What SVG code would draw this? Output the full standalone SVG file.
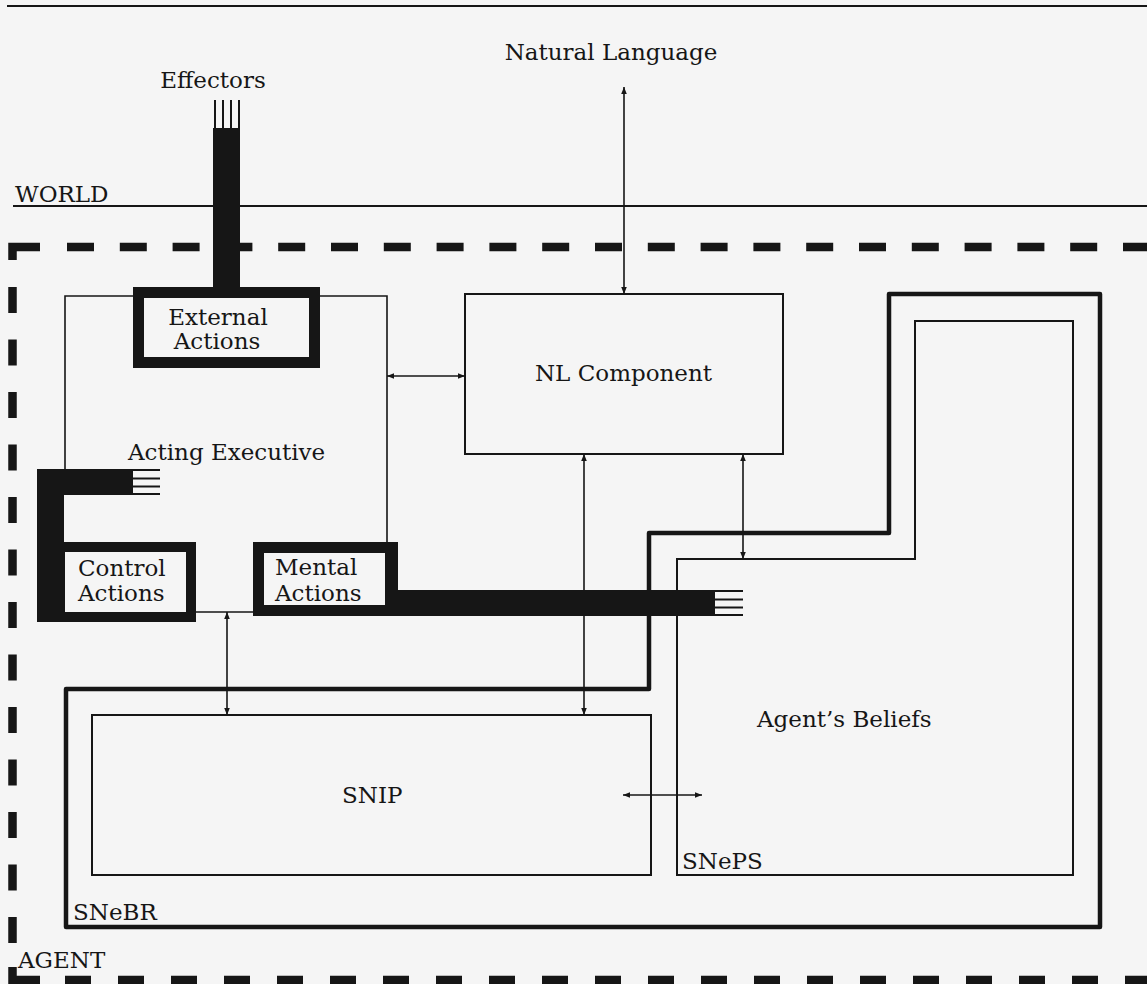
<svg xmlns="http://www.w3.org/2000/svg" width="1147" height="984" viewBox="0 0 1147 984">
<defs>
<style>
.bg{fill:#f5f5f5}
.ink{fill:#161616}
.paper{fill:#f5f5f5}
.thin{fill:none;stroke:#161616;stroke-width:2}
.hair{fill:none;stroke:#161616;stroke-width:1.6}
.thick{fill:none;stroke:#161616;stroke-width:4.5;stroke-linejoin:round}
.dash{fill:none;stroke:#161616;stroke-width:8.5}
.wire{stroke:#161616;stroke-width:2}
.arrow{fill:none;stroke:#161616;stroke-width:1.6;marker-start:url(#ah);marker-end:url(#ah)}
text{font-family:"DejaVu Serif","Liberation Serif",serif;font-size:23px;fill:#161616}
</style>
<marker id="ah" viewBox="0 0 10 10" refX="10" refY="5" markerWidth="9" markerHeight="7" markerUnits="userSpaceOnUse" orient="auto-start-reverse">
<path d="M0,1 L10,5 L0,9 z" fill="#161616"/>
</marker>
</defs>
<rect class="bg" x="0" y="0" width="1147" height="984"/>

<g id="world">
<line class="thin" x1="7" y1="6" x2="1147" y2="6"/>
<line class="thin" x1="13" y1="206" x2="1147" y2="206"/>
<text x="15" y="202">WORLD</text>
<text x="611" y="60" text-anchor="middle">Natural Language</text>
</g>

<g id="agent-boundary">
<path class="dash" d="M12.5,260 V247 H40" stroke-linejoin="miter"/>
<line class="dash" x1="67" y1="247" x2="1147" y2="247" stroke-dasharray="27 25.8"/>
<line class="dash" x1="12.5" y1="287" x2="12.5" y2="945" stroke-dasharray="26 26.5"/>
<path class="dash" d="M12.5,967 V980 H40" stroke-linejoin="miter"/>
<line class="dash" x1="65" y1="980" x2="1147" y2="980" stroke-dasharray="26 27"/>
<text x="18" y="968">AGENT</text>
</g>

<g id="acting-executive">
<path class="hair" d="M133,296 H65 V470 M320,296 H387 V542 M196,612 H253"/>
<text x="128" y="460">Acting Executive</text>
</g>

<g id="nl-component">
<rect class="thin" x="465" y="294" width="318" height="160"/>
<text x="623.5" y="381" text-anchor="middle">NL Component</text>
</g>

<g id="snip">
<rect class="thin" x="92" y="715" width="559" height="160"/>
<text x="342" y="803">SNIP</text>
</g>

<g id="sneps">
<path class="thin" d="M677,559 H915 V321 H1073 V875 H677 Z"/>
<text x="682" y="869">SNePS</text>
<text x="757" y="727">Agent’s Beliefs</text>
</g>

<g id="snebr">
<path class="thick" d="M66,689 H649 V533 H889 V294 H1100 V927 H66 Z"/>
<text x="73" y="920">SNeBR</text>
</g>

<g id="connectors">
<line class="arrow" x1="624" y1="87" x2="624" y2="294"/>
<line class="arrow" x1="387" y1="376" x2="465" y2="376"/>
<line class="arrow" x1="584" y1="454" x2="584" y2="715"/>
<line class="arrow" x1="743" y1="454" x2="743" y2="559"/>
<line class="arrow" x1="227" y1="612" x2="227" y2="715"/>
<line class="arrow" x1="623" y1="795" x2="702" y2="795"/>
</g>

<g id="effectors">
<rect class="ink" x="213" y="128" width="27" height="162"/>
<g class="wire">
<line x1="215" y1="100" x2="215" y2="130"/>
<line x1="223" y1="100" x2="223" y2="130"/>
<line x1="231" y1="100" x2="231" y2="130"/>
<line x1="239" y1="100" x2="239" y2="130"/>
</g>
<text x="213" y="88" text-anchor="middle">Effectors</text>
</g>

<g id="external-actions">
<rect class="ink" x="133" y="287" width="187" height="81"/>
<rect class="paper" x="144" y="298" width="165" height="59"/>
<text x="218" y="325" text-anchor="middle">External</text>
<text x="217" y="349" text-anchor="middle">Actions</text>
</g>

<g id="control-actions">
<rect class="ink" x="37" y="469" width="96" height="26"/>
<rect class="ink" x="37" y="469" width="27" height="100"/>
<rect class="ink" x="37" y="542" width="159" height="80"/>
<rect class="paper" x="65" y="552" width="121" height="60"/>
<g class="wire">
<line x1="131" y1="470" x2="160" y2="470"/>
<line x1="131" y1="478.5" x2="160" y2="478.5"/>
<line x1="131" y1="486.5" x2="160" y2="486.5"/>
<line x1="131" y1="494" x2="160" y2="494"/>
</g>
<text x="78" y="576">Control</text>
<text x="78" y="601">Actions</text>
</g>

<g id="mental-actions">
<rect class="ink" x="253" y="542" width="145" height="74"/>
<rect class="paper" x="264" y="553" width="121" height="52"/>
<rect class="ink" x="396" y="590" width="319" height="26"/>
<g class="wire">
<line x1="713" y1="591" x2="743" y2="591"/>
<line x1="713" y1="599.5" x2="743" y2="599.5"/>
<line x1="713" y1="607.5" x2="743" y2="607.5"/>
<line x1="713" y1="615" x2="743" y2="615"/>
</g>
<text x="275" y="575">Mental</text>
<text x="275" y="601">Actions</text>
</g>
</svg>
